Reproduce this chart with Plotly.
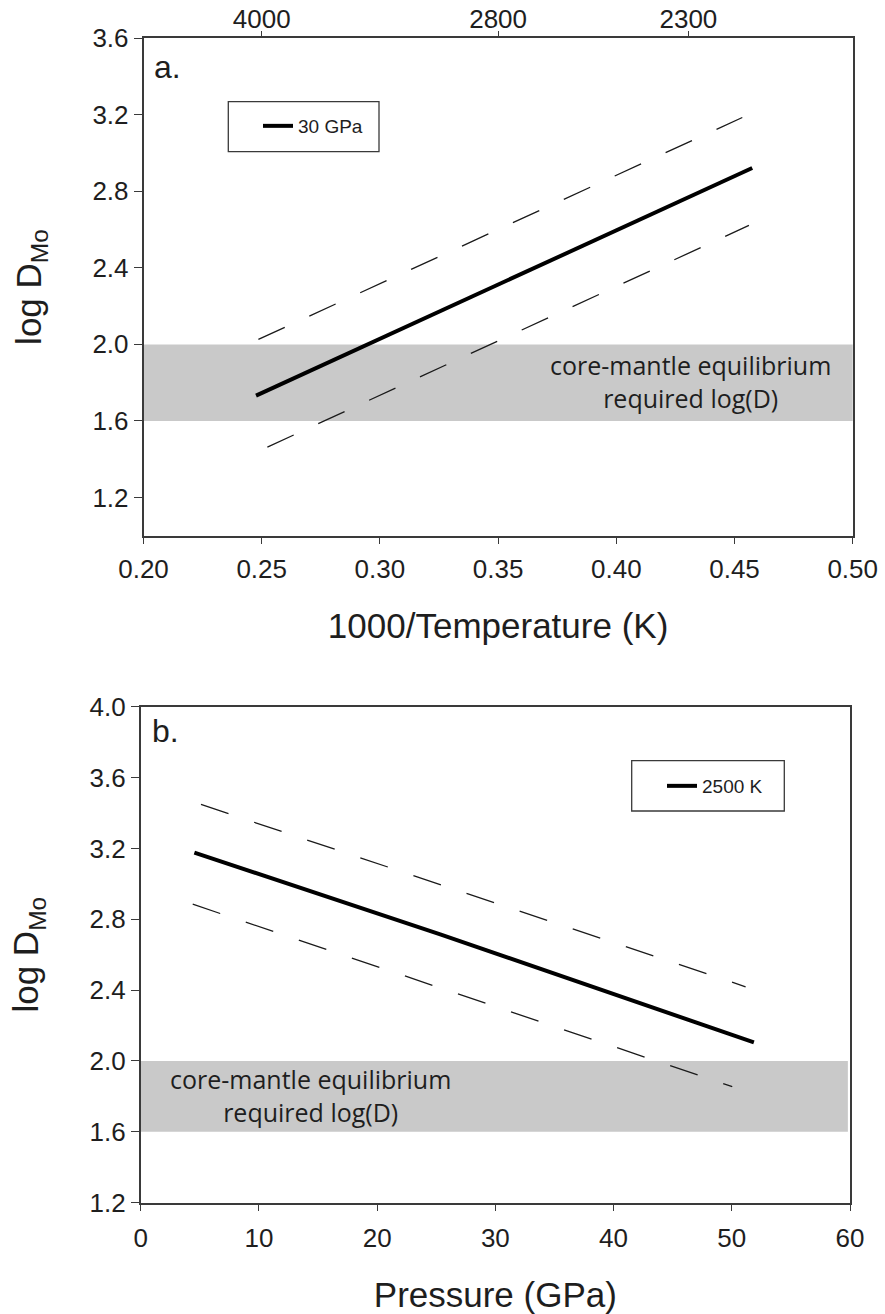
import plotly.graph_objects as go

# ---------------- data ----------------
# Panel a: log D(Mo) vs 1000/T at 30 GPa
a_fit_x = [0.2476, 0.4575]
a_fit_y = [1.732, 2.922]
a_upper_x = [0.2486, 0.4533]
a_upper_y = [2.026, 3.186]
a_lower_x = [0.2524, 0.4561]
a_lower_y = [1.463, 2.622]
a_top_tick_pos = [0.25, 0.35, 0.4305]
a_top_tick_labels = ["4000", "2800", "2300"]
a_x_ticks = [0.20, 0.25, 0.30, 0.35, 0.40, 0.45, 0.50]
a_y_ticks = [1.2, 1.6, 2.0, 2.4, 2.8, 3.2, 3.6]

# Panel b: log D(Mo) vs pressure at 2500 K
b_fit_x = [4.54, 25.34, 51.87]
b_fit_y = [3.176, 2.715, 2.105]
b_upper_x = [5.1, 51.17]
b_upper_y = [3.448, 2.419]
b_lower_x = [4.4, 50.04]
b_lower_y = [2.885, 1.855]
b_x_ticks = [0, 10, 20, 30, 40, 50, 60]
b_y_ticks = [1.2, 1.6, 2.0, 2.4, 2.8, 3.2, 3.6, 4.0]

# required core-mantle equilibrium range of log(D)
band_lo, band_hi = 1.6, 2.0
band_label = "core-mantle equilibrium<br>required log(D)"

# ---------------- layout helpers ----------------
W, H = 885, 1314


def px(x):
    return x / W


def py(y):
    return 1 - y / H


AXC = "#3a3a3a"
TXT = "#1e1e1e"
SANS = "Liberation Sans, Arial, sans-serif"
TICKFONT = dict(family=SANS, size=26, color=TXT)
TITLEFONT = dict(family=SANS, size=35, color=TXT)
BANDFONT = dict(family="Open Sans, sans-serif", size=25, color=TXT)
DASH = "29px,27px"

fig = go.Figure()

# panel a
fig.add_trace(go.Scatter(x=a_upper_x, y=a_upper_y, mode="lines",
                         line=dict(color="#1a1a1a", width=1.3, dash=DASH),
                         showlegend=False, hoverinfo="skip", xaxis="x", yaxis="y"))
fig.add_trace(go.Scatter(x=a_lower_x, y=a_lower_y, mode="lines",
                         line=dict(color="#1a1a1a", width=1.3, dash=DASH),
                         showlegend=False, hoverinfo="skip", xaxis="x", yaxis="y"))
fig.add_trace(go.Scatter(x=a_fit_x, y=a_fit_y, mode="lines", name="30 GPa",
                         line=dict(color="black", width=4),
                         legend="legend", xaxis="x", yaxis="y"))
# carrier for the temperature axis on top
fig.add_trace(go.Scatter(x=a_fit_x, y=a_fit_y, mode="lines", opacity=0,
                         showlegend=False, hoverinfo="skip", xaxis="x2", yaxis="y"))

# panel b
fig.add_trace(go.Scatter(x=b_upper_x, y=b_upper_y, mode="lines",
                         line=dict(color="#1a1a1a", width=1.3, dash=DASH),
                         showlegend=False, hoverinfo="skip", xaxis="x3", yaxis="y2"))
fig.add_trace(go.Scatter(x=b_lower_x, y=b_lower_y, mode="lines",
                         line=dict(color="#1a1a1a", width=1.3, dash=DASH),
                         showlegend=False, hoverinfo="skip", xaxis="x3", yaxis="y2"))
fig.add_trace(go.Scatter(x=b_fit_x, y=b_fit_y, mode="lines", name="2500 K",
                         line=dict(color="black", width=4),
                         legend="legend2", xaxis="x3", yaxis="y2"))

common_axis = dict(showline=True, linecolor=AXC, linewidth=1.5, showgrid=False,
                   zeroline=False, ticks="outside", tickcolor=AXC, tickwidth=1.3,
                   tickfont=TICKFONT, title_font=TITLEFONT, automargin=False)

fig.update_layout(
    template="none",
    width=W, height=H,
    margin=dict(l=0, r=0, t=0, b=0),
    paper_bgcolor="white", plot_bgcolor="white",
    xaxis=dict(common_axis, domain=[px(143.5), px(852.7)], anchor="y", range=[0.2, 0.5],
               tickvals=a_x_ticks, tickformat=".2f", ticklen=7, mirror=True,
               ticklabelstandoff=2,
               title=dict(text="1000/Temperature (K)", standoff=31)),
    xaxis2=dict(common_axis, overlaying="x", side="top", anchor="y", range=[0.2, 0.5],
                tickvals=a_top_tick_pos, ticktext=a_top_tick_labels, ticklen=6,
                ticklabelstandoff=-8),
    yaxis=dict(common_axis, domain=[py(535.7), py(38.3)], anchor="x", range=[1.0, 3.6],
               tickvals=a_y_ticks, tickformat=".1f", ticklen=8, mirror=True,
               title=dict(text="log D<sub>Mo</sub>", standoff=40)),
    xaxis3=dict(common_axis, domain=[px(140.7), px(850)], anchor="y2", range=[0, 60],
                tickvals=b_x_ticks, ticklen=7, mirror=True, ticklabelstandoff=4,
                title=dict(text="Pressure (GPa)", standoff=33)),
    yaxis2=dict(common_axis, domain=[py(1202.7), py(706.7)], anchor="x3", range=[1.2, 4.0],
                tickvals=b_y_ticks, tickformat=".1f", ticklen=8, mirror=True,
                title=dict(text="log D<sub>Mo</sub>", standoff=40)),
    legend=dict(x=px(258), y=py(126), xanchor="left", yanchor="middle",
                bgcolor="rgba(0,0,0,0)", borderwidth=0,
                font=dict(family=SANS, size=19, color=TXT)),
    legend2=dict(x=px(662), y=py(786), xanchor="left", yanchor="middle",
                 bgcolor="rgba(0,0,0,0)", borderwidth=0,
                 font=dict(family=SANS, size=19, color=TXT)),
)

# shaded equilibrium bands
fig.add_shape(type="rect", xref="x domain", yref="y", x0=0, x1=1, y0=band_lo, y1=band_hi,
              fillcolor="#c9c9c9", line=dict(width=0), layer="below")
fig.add_shape(type="rect", xref="x3 domain", yref="y2", x0=0, x1=0.997, y0=band_lo, y1=band_hi,
              fillcolor="#c9c9c9", line=dict(width=0), layer="below")

# legend frames
fig.add_shape(type="rect", xref="paper", yref="paper", x0=px(228.3), x1=px(379),
              y0=py(151.7), y1=py(101.7), line=dict(color=AXC, width=1.3))
fig.add_shape(type="rect", xref="paper", yref="paper", x0=px(631.7), x1=px(784.3),
              y0=py(811), y1=py(760.7), line=dict(color=AXC, width=1.3))

# panel letters
fig.add_annotation(text="a.", xref="paper", yref="paper", x=px(152), y=py(67),
                   xanchor="left", yanchor="middle", showarrow=False,
                   font=dict(family=SANS, size=32, color=TXT))
fig.add_annotation(text="b.", xref="paper", yref="paper", x=px(150), y=py(731),
                   xanchor="left", yanchor="middle", showarrow=False,
                   font=dict(family=SANS, size=32, color=TXT))

# band labels
fig.add_annotation(text=band_label, xref="paper", yref="paper", x=px(690), y=py(381),
                   xanchor="center", yanchor="middle", showarrow=False, font=BANDFONT)
fig.add_annotation(text=band_label, xref="paper", yref="paper", x=px(310), y=py(1095),
                   xanchor="center", yanchor="middle", showarrow=False, font=BANDFONT)

fig.write_html("out.html")
